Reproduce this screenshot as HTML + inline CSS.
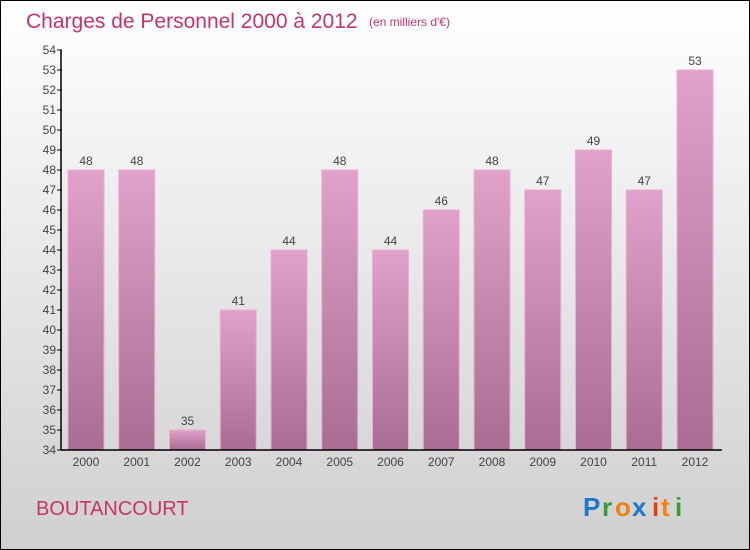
<!DOCTYPE html>
<html><head><meta charset="utf-8"><style>
body{margin:0;}
#c{width:748px;height:548px;border:1px solid #000;background:linear-gradient(#ffffff,#cfcfcf);position:relative;overflow:hidden;font-family:"Liberation Sans",sans-serif;}
</style></head><body>
<div id="c">
<svg id="s" width="748" height="548">
<defs><linearGradient id="bg" x1="0" y1="0" x2="0" y2="1"><stop offset="0" stop-color="#e0a2ca"/><stop offset="1" stop-color="#a96c92"/></linearGradient></defs>
<text x="25" y="27" font-size="21" fill="#c8336a">Charges de Personnel 2000 à 2012</text>
<text x="368" y="25" font-size="12" fill="#c8336a">(en milliers d'€)</text>
<text x="35" y="514" font-size="20" fill="#c8336a">BOUTANCOURT</text>
<g font-size="26" font-weight="bold" font-family="Liberation Sans, sans-serif">
<text x="582" y="515" fill="#1a78d0">P</text><text x="601" y="515" fill="#3a9a3a">r</text><text x="614" y="515" fill="#f08010">o</text><text x="631" y="515" fill="#1a78d0">x</text><text x="651" y="515" fill="#e04010">i</text><text x="660" y="515" fill="#f08010">t</text><text x="674" y="515" fill="#3a9a3a">i</text>
</g>
<g id="g"></g>
</svg></div>
<script>
const categories=["2000","2001","2002","2003","2004","2005","2006","2007","2008","2009","2010","2011","2012"];
const values=[48,48,35,41,44,48,44,46,48,47,49,47,53];
const yTicks=[34,35,36,37,38,39,40,41,42,43,44,45,46,47,48,49,50,51,52,53,54];
const NS="http://www.w3.org/2000/svg";
const g=document.getElementById('g');
const yMin=34,yMax=54,plotTop=49,plotBot=449,x0=60;
function y(v){return plotBot-(v-yMin)*(plotBot-plotTop)/(yMax-yMin);}
function x(i){return 85+i*50.75;}
function mk(t,a){const e=document.createElementNS(NS,t);for(const k in a)e.setAttribute(k,a[k]);g.appendChild(e);return e;}
values.forEach((v,i)=>{
 const r=mk('rect',{x:x(i)-18,y:y(v),width:36,height:plotBot-y(v),fill:'url(#bg)',stroke:'#e8b0d4','stroke-width':1});
 
 
 const t=mk('text',{x:x(i),y:y(v)-5,'text-anchor':'middle','font-size':12,fill:'#444'});
 t.textContent=v;
 
 
 const l=mk('text',{x:x(i),y:plotBot+16,'text-anchor':'middle','font-size':12,fill:'#444'});
 l.textContent=categories[i];
 
 
});
yTicks.forEach(v=>{
 const tk=mk('line',{x1:x0-4,x2:x0+1,y1:y(v),y2:y(v),stroke:'#000'});
 
 
 const t=mk('text',{x:x0-5,y:y(v)+4,'text-anchor':'end','font-size':12,fill:'#444'});
 t.textContent=v;
 
 
});
const ya=mk('line',{x1:x0,x2:x0,y1:plotTop,y2:plotBot,stroke:'#000','stroke-width':1.5});


const xa=mk('line',{x1:x0,x2:721,y1:plotBot,y2:plotBot,stroke:'#000','stroke-width':1.5});


</script>
</body></html>
